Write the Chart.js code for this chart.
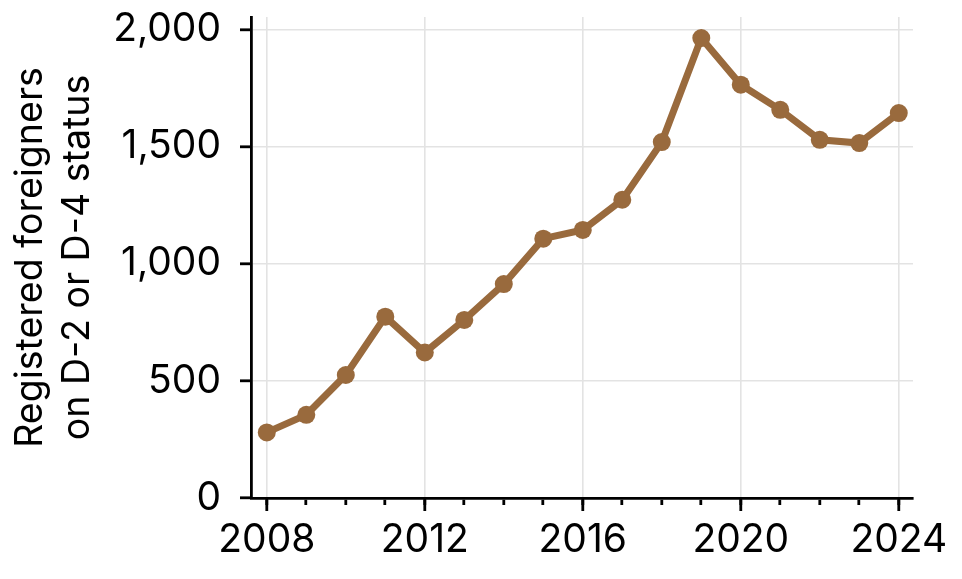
<!DOCTYPE html>
<html>
<head>
<meta charset="utf-8">
<script src="https://cdn.jsdelivr.net/npm/chart.js@4"></script>
<style>
  html, body { margin: 0; padding: 0; background: #fff; }
  #wrap { width: 962px; height: 579px; position: relative; }
</style>
</head>
<body>
<div id="wrap"><canvas id="d-status-chart"></canvas></div>
<script>
var years = [2008, 2009, 2010, 2011, 2012, 2013, 2014, 2015, 2016, 2017, 2018, 2019, 2020, 2021, 2022, 2023, 2024];
var registered = [280, 355, 525, 774, 621, 760, 913, 1107, 1144, 1273, 1519, 1963, 1764, 1657, 1529, 1515, 1643];
var y_ticks = [0, 500, 1000, 1500, 2000];
var x_label_years = [2008, 2012, 2016, 2020, 2024];
var y_title = ['Registered foreigners', 'on D-2 or D-4 status'];

var brown = '#996a3d';
var font_name = 'Inter, "Liberation Sans", sans-serif';

// longer tick marks for the labelled years
var major_ticks = {
    id: 'major_ticks',
    afterDraw: function (chart) {
        var x = chart.scales.x;
        var ctx = chart.ctx;
        ctx.save();
        ctx.strokeStyle = '#000';
        ctx.lineWidth = 2.8;
        x_label_years.forEach(function (yr) {
            var px = x.getPixelForValue(yr);
            ctx.beginPath();
            ctx.moveTo(px, x.top);
            ctx.lineTo(px, x.top + 13);
            ctx.stroke();
        });
        ctx.restore();
    }
};

var ctx = document.getElementById('d-status-chart').getContext('2d');
var d_status_chart = new Chart(ctx, {
    type: 'line',
    data: {
        datasets: [{
            data: years.map(function (yr, i) { return {x: yr, y: registered[i]}; }),
            borderColor: brown,
            backgroundColor: brown,
            borderWidth: 7,
            pointRadius: 9,
            pointBorderWidth: 0,
            pointBackgroundColor: brown,
            fill: false,
            tension: 0
        }]
    },
    options: {
        responsive: true,
        maintainAspectRatio: false,
        animation: false,
        devicePixelRatio: 1,
        layout: { padding: { left: 0, top: 17, right: 49, bottom: 0 } },
        plugins: {
            legend: { display: false },
            tooltip: { enabled: false }
        },
        scales: {
            x: {
                type: 'linear',
                min: 2007.6,
                max: 2024.36,
                afterBuildTicks: function (scale) {
                    scale.ticks = years.map(function (yr) { return {value: yr}; });
                },
                afterFit: function (scale) {
                    scale.height = 81;
                    scale.paddingLeft = 0;
                    scale.paddingRight = 0;
                },
                border: { color: '#000', width: 2.8 },
                grid: {
                    color: function (c) {
                        return (c.tick && x_label_years.indexOf(c.tick.value) >= 0) ? '#e3e3e3' : 'rgba(0,0,0,0)';
                    },
                    lineWidth: 1.6,
                    tickColor: '#000',
                    tickLength: 7,
                    tickWidth: 2.8
                },
                ticks: {
                    color: '#000',
                    font: { family: font_name, size: 39 },
                    padding: 12,
                    maxRotation: 0,
                    autoSkip: false,
                    callback: function (v) {
                        return x_label_years.indexOf(v) >= 0 ? String(v) : '';
                    }
                }
            },
            y: {
                min: 0,
                max: 2053,
                afterBuildTicks: function (scale) {
                    scale.ticks = y_ticks.map(function (v) { return {value: v}; });
                },
                afterFit: function (scale) {
                    scale.width = 251;
                    scale.paddingTop = 0;
                    scale.paddingBottom = 0;
                },
                border: { color: '#000', width: 2.8 },
                grid: {
                    color: '#e3e3e3',
                    lineWidth: 1.6,
                    tickColor: '#000',
                    tickLength: 11,
                    tickWidth: 2.8
                },
                ticks: {
                    color: '#000',
                    font: { family: font_name, size: 39 },
                    padding: 19,
                    callback: function (v) { return v.toLocaleString('en-US'); }
                },
                title: {
                    display: true,
                    text: y_title,
                    color: '#000',
                    font: { family: font_name, size: 37.5, lineHeight: 1.25 },
                    padding: { top: 7, bottom: 0 }
                }
            }
        }
    },
    plugins: [major_ticks]
});
</script>
</body>
</html>
